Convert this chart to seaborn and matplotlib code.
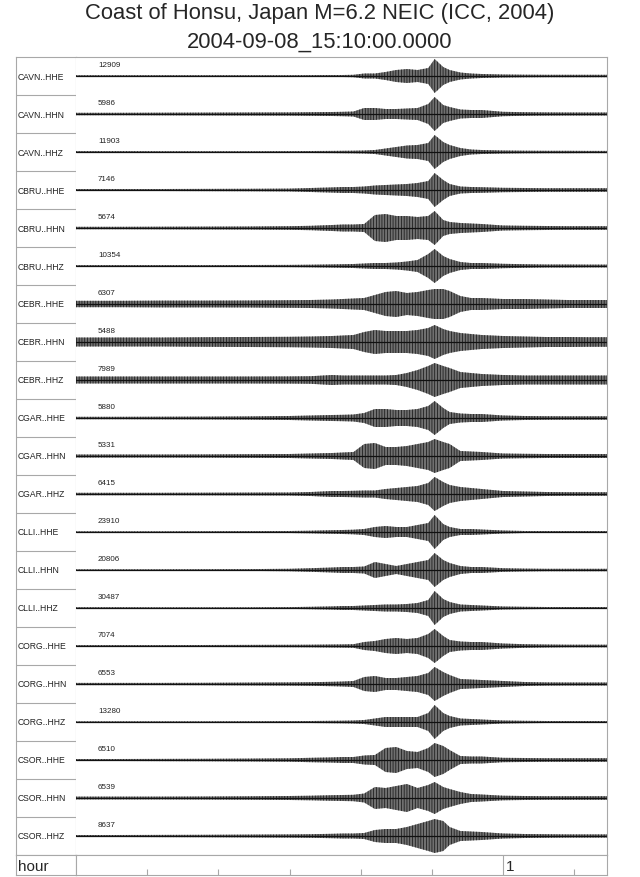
import numpy as np
import pandas as pd
import seaborn as sns
import matplotlib.pyplot as plt

# time knots (hours after 15:10:00) at which the trace envelopes were read
t_knots = [0, 0.1, 0.2, 0.3, 0.4, 0.5, 0.55, 0.6, 0.625, 0.65, 0.675, 0.7, 0.725, 0.75,
           0.775, 0.8, 0.825, 0.84, 0.86, 0.875, 0.9, 0.925, 0.95, 1.0, 1.05, 1.1, 1.15, 1.2, 1.25]

stations = ['CAVN..HHE', 'CAVN..HHN', 'CAVN..HHZ', 'CBRU..HHE', 'CBRU..HHN', 'CBRU..HHZ',
            'CEBR..HHE', 'CEBR..HHN', 'CEBR..HHZ', 'CGAR..HHE', 'CGAR..HHN', 'CGAR..HHZ',
            'CLLI..HHE', 'CLLI..HHN', 'CLLI..HHZ', 'CORG..HHE', 'CORG..HHN', 'CORG..HHZ',
            'CSOR..HHE', 'CSOR..HHN', 'CSOR..HHZ']
scales = [12909, 5986, 11903, 7146, 5674, 10354, 6307, 5488, 7989, 5880, 5331, 6415,
          23910, 20806, 30487, 7074, 6553, 13280, 6510, 6539, 8637]

# half-amplitude of each trace (pixels, row height = 38)
cavn_hhe = [0.8, 0.8, 0.8, 0.8, 0.8, 0.8, 0.9, 1.0, 1.0, 1.2, 2.5, 2.5, 4, 6, 7, 6, 8, 17, 9, 6, 3.5, 2.5, 2, 1.5, 1.3, 1.2, 1.2, 1.2, 1.2]
cavn_hhn = [1.2, 1.2, 1.3, 1.4, 1.5, 1.6, 1.8, 2.0, 2.2, 2.5, 6, 6, 5, 5, 5.5, 6, 10, 17, 9, 7, 4.5, 4, 4, 2.2, 1.8, 1.6, 1.5, 1.5, 1.5]
cavn_hhz = [0.9, 0.9, 0.8, 0.8, 0.8, 0.9, 1.0, 1.1, 1.2, 1.3, 1.5, 2.0, 3.5, 5, 6.5, 7, 9, 17, 10, 7, 4, 2.5, 2, 1.5, 1.3, 1.2, 1.2, 1.1, 1.1]
cbru_hhe = [1.0, 1.0, 1.0, 1.1, 1.2, 1.4, 2.0, 2.6, 3.0, 3.0, 3.5, 4.5, 5, 5.5, 6, 7, 9, 17, 10, 6, 3.5, 3, 2.8, 2.2, 2, 1.8, 1.8, 1.8, 1.8]
cbru_hhn = [1.2, 1.2, 1.3, 1.4, 1.5, 1.8, 2.2, 3, 3.5, 3.5, 4, 13, 14, 12, 12, 11, 12, 17, 8, 6, 5, 4.5, 4, 2.5, 2.2, 2, 1.8, 1.8, 1.8]
cbru_hhz = [0.9, 0.9, 0.9, 0.9, 1.0, 1.1, 1.3, 1.6, 1.8, 2.0, 2.5, 3, 3, 3.5, 4.5, 6, 12, 17, 10, 7, 4, 3, 3, 2.2, 1.8, 1.5, 1.5, 1.4, 1.4]
cebr_hhe = [3.2, 3.2, 3.4, 3.4, 3.5, 3.8, 4, 4.5, 5, 5.5, 6, 9, 12, 13, 11, 12, 14, 15, 15, 13, 8, 6, 6, 5, 5, 4.5, 4, 4, 4]
cebr_hhn = [4.5, 4.5, 4.5, 4.8, 5, 5.2, 5.5, 6, 6.5, 7, 10, 12, 11, 11, 11, 12, 14, 17, 13, 11, 9, 8, 7, 6, 5.5, 5, 5, 4.8, 4.8]
cebr_hhz = [3.5, 3.5, 3.5, 3.5, 3.5, 3.6, 3.8, 5, 4.5, 4.5, 4.5, 4.5, 4.5, 5, 7, 10, 14, 17, 14, 12, 8, 7, 6, 5, 4.5, 4.5, 4.5, 4.5, 4.5]
cgar_hhe = [1.2, 1.2, 1.3, 1.4, 1.6, 2, 2.5, 3, 3.2, 3.5, 5, 9, 9, 8, 8, 9, 12, 17, 10, 6, 4.5, 4, 4, 2.5, 2, 1.8, 1.7, 1.7, 1.7]
cgar_hhn = [1.5, 1.5, 1.5, 1.6, 1.8, 2, 2.5, 3, 3.5, 4, 12, 13, 9, 9, 10, 12, 14, 17, 14, 12, 5, 4.5, 4, 2.5, 2.2, 2, 2, 2, 2]
cgar_hhz = [1.2, 1.2, 1.2, 1.3, 1.4, 1.5, 2, 3, 3, 3.2, 3.5, 3.5, 5, 6, 7, 8, 11, 17, 12, 9, 7, 6, 5, 3, 2.5, 2, 1.8, 1.8, 1.8]
clli_hhe = [0.7, 0.7, 0.7, 0.8, 0.9, 1.0, 1.3, 1.8, 2, 2.3, 3, 5, 6, 5, 5, 7, 9, 17, 8, 5, 3, 3, 2.5, 1.5, 1, 1, 1, 1, 1]
clli_hhn = [0.7, 0.7, 0.7, 0.8, 0.9, 1.2, 1.8, 2.5, 3, 3, 3.5, 8, 6, 4, 6, 8, 10, 17, 10, 7, 4, 3, 3, 1.8, 1.4, 1.2, 1.2, 1.2, 1.2]
clli_hhz = [0.8, 0.8, 0.7, 0.7, 0.7, 0.9, 1.2, 1.6, 2, 2, 2.5, 3, 3.5, 3.5, 4, 5, 8, 17, 9, 6, 3.5, 3, 2.5, 1.5, 1.2, 1, 1, 1, 1]
corg_hhe = [0.9, 0.9, 0.9, 1.0, 1.1, 1.2, 1.3, 1.5, 1.6, 1.8, 4, 5, 7, 8, 7, 8, 12, 17, 10, 6, 4.5, 4, 4, 2.5, 1.8, 1.5, 1.3, 1.3, 1.3]
corg_hhn = [1.1, 1.1, 1.1, 1.2, 1.4, 1.6, 1.8, 2.2, 2.5, 3, 7, 8, 6, 6, 7, 8, 11, 17, 12, 9, 5, 4.5, 4, 3, 2, 1.6, 1.5, 1.5, 1.5]
corg_hhz = [0.7, 0.7, 0.7, 0.7, 0.8, 0.9, 1.0, 1.2, 1.3, 1.5, 2, 3.5, 5, 5, 5, 5, 9, 17, 9, 6, 3.5, 3, 2.5, 1.5, 1.2, 1, 1, 1, 1]
csor_hhe = [1.0, 1.0, 1.1, 1.2, 1.4, 1.7, 2.2, 2.6, 3, 3, 4.5, 5, 12, 13, 9, 8, 12, 17, 14, 10, 4, 3.5, 3.5, 2.2, 2, 1.8, 1.8, 1.8, 1.8]
csor_hhn = [1.4, 1.4, 1.4, 1.5, 1.7, 2, 2.3, 2.8, 3, 3.2, 4.5, 11, 10, 12, 14, 10, 13, 16, 11, 9, 6, 4, 3.5, 2.3, 2, 1.8, 1.8, 1.8, 1.8]
csor_hhz = [1.0, 1.0, 1.1, 1.2, 1.4, 1.6, 1.8, 2.2, 2.5, 2.5, 3, 6, 7, 7, 9, 12, 15, 17, 15, 9, 5, 4.5, 4, 2.5, 2, 1.8, 1.6, 1.6, 1.6]

envelopes = [cavn_hhe, cavn_hhn, cavn_hhz, cbru_hhe, cbru_hhn, cbru_hhz,
             cebr_hhe, cebr_hhn, cebr_hhz, cgar_hhe, cgar_hhn, cgar_hhz,
             clli_hhe, clli_hhn, clli_hhz, corg_hhe, corg_hhn, corg_hhz,
             csor_hhe, csor_hhn, csor_hhz]

title_1 = 'Coast of Honsu, Japan M=6.2 NEIC (ICC, 2004)'
title_2 = '2004-09-08_15:10:00.0000'

sns.set_theme(style='white')
plt.rcParams['font.family'] = ['Liberation Sans', 'DejaVu Sans']
plt.rcParams['hatch.linewidth'] = 0.5

W, H = 640, 878
fig = plt.figure(figsize=(6.4, 8.78), dpi=100)
frame = '#a8a8a8'


def box(x0, y0, x1, y1):
    # pixel box (top-left origin) -> figure axes
    return fig.add_axes([x0 / W, 1 - y1 / H, (x1 - x0) / W, (y1 - y0) / H])


ax_lab = box(16, 58, 76, 856)
ax = box(76, 58, 607, 856)
ax_hr = box(16, 856, 76, 876)
ax_t = box(76, 856, 607, 876)

t_end = (607 - 76) / 427.0
n = len(stations)
rows = []
for i, (name, env) in enumerate(zip(stations, envelopes)):
    for t, a in zip(t_knots, env):
        rows.append({'station': name, 'row': i, 't': t, 'amp': a / 38.0})
df = pd.DataFrame(rows)
df['upper'] = df['row'] - df['amp']
df['lower'] = df['row'] + df['amp']

for i, name in enumerate(stations):
    d = df[df['station'] == name]
    ax.fill_between(d['t'], d['upper'], d['lower'], facecolor='#707070',
                    edgecolor='#111111', hatch='||||||', linewidth=0)
    sns.lineplot(data=d, x='t', y='row', ax=ax, color='#111111', lw=0.9)
    ax.text(22 / 427.0, i - 11.5 / 38.0, str(scales[i]), fontsize=5.8,
            va='center', ha='left', color='#222222')
    ax_lab.text(0.035, i, name, fontsize=6.2, va='center', ha='left',
                transform=ax_lab.get_yaxis_transform(), color='#222222')

for a in (ax, ax_lab):
    a.set_ylim(n - 0.5, -0.5)
    a.set_xticks([])
    a.set_yticks([])
    a.set_xlabel('')
    a.set_ylabel('')
    for s in a.spines.values():
        s.set_color(frame)
        s.set_linewidth(0.8)
ax.set_xlim(0, t_end)
ax.spines['left'].set_visible(False)
for k in range(1, n):
    ax_lab.axhline(k - 0.5, color=frame, lw=0.8)
ax_lab.set_xlim(0, 1)

# time axis
ax_t.set_xlim(0, t_end)
ax_t.set_ylim(0, 1)
minor = [k / 6 for k in range(1, 8) if k != 6]
ax_t.set_xticks(minor)
ax_t.set_xticklabels([])
ax_t.tick_params(axis='x', direction='in', length=4, width=0.8, color=frame, bottom=True)
ax_t.set_yticks([])
ax_t.axvline(1.0, color=frame, lw=0.8)
ax_t.text(1.0 + 3 / 427.0, 0.45, '1', fontsize=11, va='center', ha='left')
ax_hr.set_xticks([])
ax_hr.set_yticks([])
ax_hr.text(0.03, 0.45, 'hour', fontsize=11, va='center', ha='left',
           transform=ax_hr.transAxes)
for a in (ax_t, ax_hr):
    for s in a.spines.values():
        s.set_color(frame)
        s.set_linewidth(0.8)

fig.text(0.5, 1 - 14 / H, title_1, fontsize=15.8, ha='center', va='center')
fig.text(0.5, 1 - 42 / H, title_2, fontsize=15.8, ha='center', va='center')

fig.savefig('out.png', dpi=100)
